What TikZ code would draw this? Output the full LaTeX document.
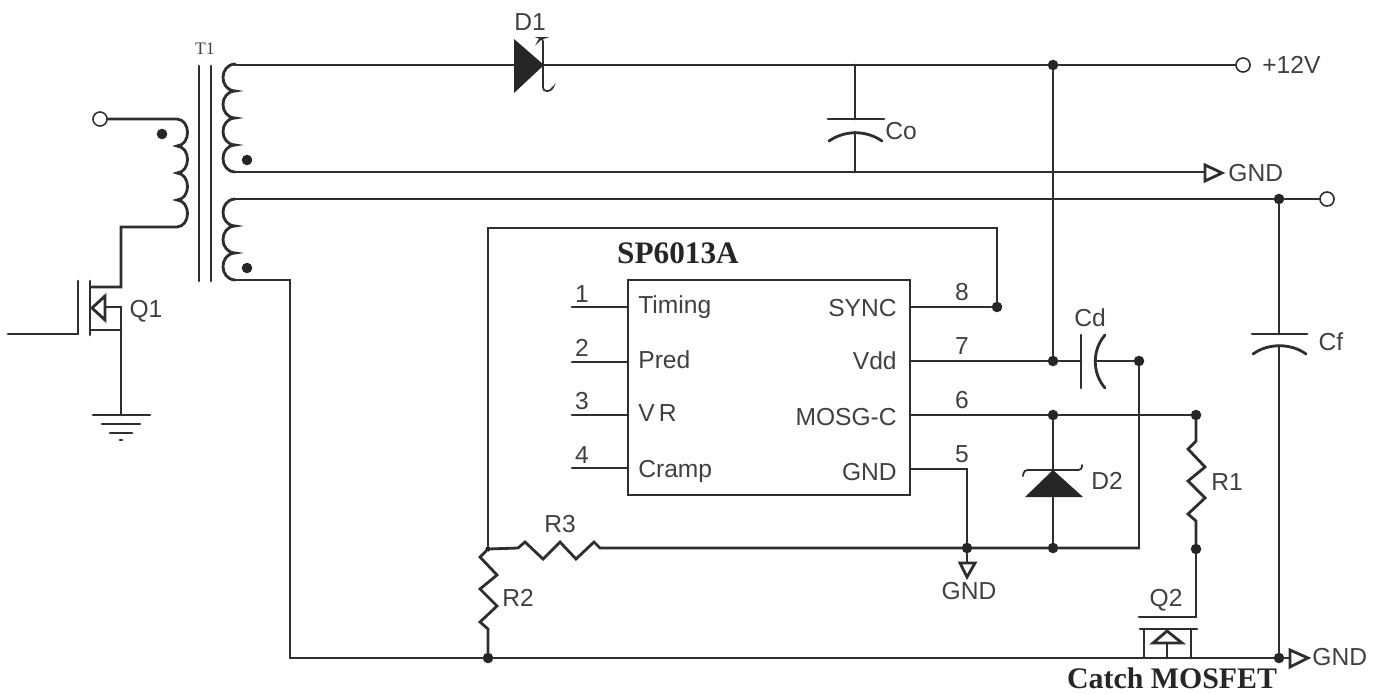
\documentclass[tikz,border=0pt]{standalone}
\usepackage{fontspec}
\setmainfont{Liberation Sans}
\newfontfamily\titlefont{Liberation Serif}
\definecolor{wire}{gray}{0.18}
\definecolor{label}{gray}{0.25}
\newcommand{\zigdown}{-- ++(-8,8) -- ++(17,18) -- ++(-17,14) -- ++(17,17) -- ++(-17,16) -- ++(8,7)}
\newcommand{\zigright}{-- ++(7,-6) -- ++(18,17) -- ++(17,-17) -- ++(16,17) -- ++(18,-17) -- ++(6,6)}
\newcommand{\hump}[1]{.. controls +(#1,1) and +(#1,-1) .. ++(0,27)}
\tikzset{
  wirepath/.style={draw=wire,line width=1.6pt},
  junction/.style={circle,fill=black!85,inner sep=0pt,minimum size=6pt},
  terminal/.style={circle,draw=wire,fill=white,line width=0.9pt,inner sep=0pt,minimum size=8pt},
  txt/.style={text=label,font=\fontsize{14}{14}\selectfont,inner sep=0pt},
  titletxt/.style={text=black!85,font=\titlefont\bfseries\fontsize{17.8}{18}\selectfont,inner sep=0pt}
}
\begin{document}
\begin{tikzpicture}[x=0.02cm,y=-0.02cm,line cap=round]
  \useasboundingbox (0,0) rectangle (1381,693);

  \node[draw=wire,line width=1.6pt,minimum width=282*0.02cm,minimum height=215*0.02cm,inner sep=0pt] (ic) at (769,387.5) {};
  \node[titletxt,anchor=base] (ictitle) at (678,263) {SP6013A};

  \foreach \n/\y/\nb/\lb/\name in {1/307/302/313/Timing,2/362/356/368/Pred,3/415/409/421/V\,R,4/468/463/477/Cramp}{
    \coordinate (pin\n) at (628,\y);
    \coordinate (pinend\n) at (572,\y);
    \draw[wirepath] (pin\n) -- (pinend\n);
    \node[txt,anchor=base] (num\n) at (582,\nb) {\n};
    \node[txt,anchor=base west] (name\n) at (638,\lb) {\name};
  }
  \foreach \n/\y/\nb/\lb/\name in {8/307/300/316/SYNC,7/361/354/369/Vdd,6/415/408/425/MOSG-C,5/469/462/480/GND}{
    \coordinate (pin\n) at (910,\y);
    \node[txt,anchor=base] (num\n) at (962,\nb) {\n};
    \node[txt,anchor=base east] (name\n) at (897,\lb) {\name};
  }

  \node[terminal] (vin) at (100,119) {};
  \node[terminal] (vout) at (1243,65) {};
  \node[terminal] (vaux) at (1327,199) {};
  \node[junction] (jout) at (1053,65) {};
  \node[junction] (jaux) at (1279,199) {};
  \node[junction] (j8) at (997,307) {};
  \node[junction] (j7) at (1053,361) {};
  \node[junction] (jcd) at (1139,361) {};
  \node[junction] (j6) at (1053,415) {};
  \node[junction] (jr1) at (1196,415) {};
  \node[junction] (jlow) at (1196,549) {};
  \node[junction] (jd2) at (1053,548) {};
  \node[junction] (j5) at (967,548) {};
  \node[junction,minimum size=3pt] (jr3) at (488,549) {};
  \node[junction] (jr2) at (488,658) {};
  \node[junction] (jgnd) at (1279,658) {};

  \coordinate (coreA) at (199,66);
  \coordinate (coreB) at (211,66);
  \draw[wirepath] (coreA) -- (199,281);
  \draw[wirepath] (coreB) -- (211,281);
  \coordinate (primtop) at (177,119);
  \coordinate (primbot) at (177,227);
  \draw[wirepath] (vin) -- (primtop) \hump{14} \hump{14} \hump{14} \hump{14} -- (121,227) -- (121,287) -- (91,287);
  \coordinate (sectop) at (235,64);
  \coordinate (secbot) at (235,172);
  \draw[wirepath] (sectop) \hump{-16} \hump{-16} \hump{-16} \hump{-16};
  \coordinate (auxtop) at (235,199);
  \coordinate (auxbot) at (235,280);
  \draw[wirepath] (auxtop) \hump{-16} \hump{-16} \hump{-16};
  \node[junction] (dotP) at (162,134) {};
  \node[junction] (dotS) at (247,160) {};
  \node[junction] (dotA) at (247,268) {};

  \coordinate (gatein) at (8,334);
  \draw[wirepath] (gatein) -- (78,334) -- (78,281);
  \draw[wirepath] (90,281) -- (90,335);
  \coordinate (q1src) at (121,330);
  \draw[wirepath] (90,330) -- (q1src);
  \draw[wirepath] (105,307) -- (121,307) -- (q1src);
  \draw[wirepath,line join=miter] (105,296) -- (92,308) -- (105,320) -- cycle;
  \coordinate (q1gnd) at (121,415);
  \draw[wirepath] (q1src) -- (q1gnd);
  \draw[wirepath] (93,415) -- (150,415);
  \draw[wirepath] (102,424) -- (140,424);
  \draw[wirepath] (110,433) -- (132,433);
  \draw[wirepath] (120,440) -- (122,440);

  \coordinate (d1a) at (514,65);
  \coordinate (d1k) at (543,65);
  \draw[wirepath] (235,65) -- (d1a);
  \draw[wirepath] (d1k) -- (jout) -- (vout);
  \fill[black!85] (514,39) -- (544,65) -- (514,93) -- cycle;
  \draw[wirepath,line width=1pt,rounded corners=2pt] (539,40) -- (540,38) -- (543,38) -- (543,91) -- (551,91) -- (552,89);

  \coordinate (cotop) at (855,119);
  \coordinate (cobot) at (855,132);
  \coordinate (gndA) at (1205,172);
  \draw[wirepath] (855,65) -- (cotop);
  \draw[wirepath] (828,119) -- (884,119);
  \draw[wirepath] (829,141) .. controls (845,130) and (866,130) .. (882,141);
  \draw[wirepath] (cobot) -- (855,172);
  \draw[wirepath] (secbot) -- (gndA);
  \draw[wirepath,line join=miter] (1205,165) -- (1222,173) -- (1205,181) -- cycle;

  \draw[wirepath] (auxtop) -- (jaux) -- (vaux);
  \draw[wirepath] (auxbot) -- (290,280) -- (290,658) -- (jr2) -- (1144,658);
  \draw[wirepath] (jaux) -- (1279,334);
  \draw[wirepath] (1252,334) -- (1307,334);
  \draw[wirepath] (1253,354) .. controls (1268,343) and (1291,343) .. (1306,354);
  \draw[wirepath] (1279,346) -- (jgnd);

  \draw[wirepath] (jout) -- (j7);
  \draw[wirepath] (pin7) -- (j7) -- (1081,361);
  \draw[wirepath] (1081,335) -- (1081,388);
  \draw[wirepath] (1105,335) .. controls (1092,350) and (1092,373) .. (1105,388);
  \draw[wirepath] (1095,361) -- (jcd) -- (1139,548);

  \draw[wirepath] (pin8) -- (j8) -- (997,228) -- (488,228) -- (jr3);
  \draw[wirepath] (pin6) -- (j6) -- (jr1);
  \draw[wirepath] (j6) -- (1053,470);
  \draw[wirepath,line width=1pt,rounded corners=2pt] (1023,476) -- (1024,470) -- (1082,470) -- (1082,465);
  \fill[black!85] (1053,470) -- (1083,497) -- (1025,497) -- cycle;
  \draw[wirepath] (1053,497) -- (jd2);

  \draw[wirepath] (pin5) -- (967,469) -- (j5) -- (967,562);
  \draw[wirepath,line join=miter] (960,563) -- (975,563) -- (967,577) -- cycle;
  \draw[wirepath] (jr3) -- (518,548) \zigright -- (j5) -- (jd2) -- (1139,548);
  \draw[wirepath] (jr3) \zigdown -- (jr2);
  \draw[wirepath] (jr1) -- (1196,441) \zigdown -- (jlow);

  \coordinate (q2gate) at (1139,617);
  \draw[wirepath] (jlow) -- (1196,617) -- (q2gate);
  \draw[wirepath] (1140,629) -- (1197,629);
  \draw[wirepath] (1144,629) -- (1144,658);
  \draw[wirepath] (1191,629) -- (1191,658);
  \draw[wirepath,line join=miter] (1153,643) -- (1182,643) -- (1167,631) -- cycle;
  \draw[wirepath] (1167,643) -- (1167,658) -- (jgnd);
  \draw[wirepath] (1144,658) -- (1167,658);
  \draw[wirepath] (jgnd) -- (1290,658);
  \draw[wirepath,line join=miter] (1290,650) -- (1308,658) -- (1290,667) -- cycle;

  \node[txt] (labD1) at (530,22) {D1};
  \node[txt,font=\titlefont\fontsize{10}{10}\selectfont] (labT1) at (205,49) {T1};
  \node[txt] (labQ1) at (146,311) {Q1};
  \node[txt] (labCo) at (901,131) {Co};
  \node[txt,anchor=west] (lab12) at (1262,65) {+12V};
  \node[txt,anchor=west] (labGa) at (1228,173) {GND};
  \node[txt] (labCd) at (1090,318) {Cd};
  \node[txt] (labCf) at (1331,342) {Cf};
  \node[txt] (labD2) at (1107,481) {D2};
  \node[txt] (labR1) at (1227,482) {R1};
  \node[txt] (labR3) at (560,524) {R3};
  \node[txt] (labR2) at (518,598) {R2};
  \node[txt] (labGb) at (969,591) {GND};
  \node[txt] (labQ2) at (1166,600) {Q2};
  \node[txt,anchor=west] (labGc) at (1312,657) {GND};
  \node[titletxt,font=\titlefont\bfseries\fontsize{17}{17}\selectfont] (labcatch) at (1172,678) {Catch MOSFET};
\end{tikzpicture}
\end{document}
